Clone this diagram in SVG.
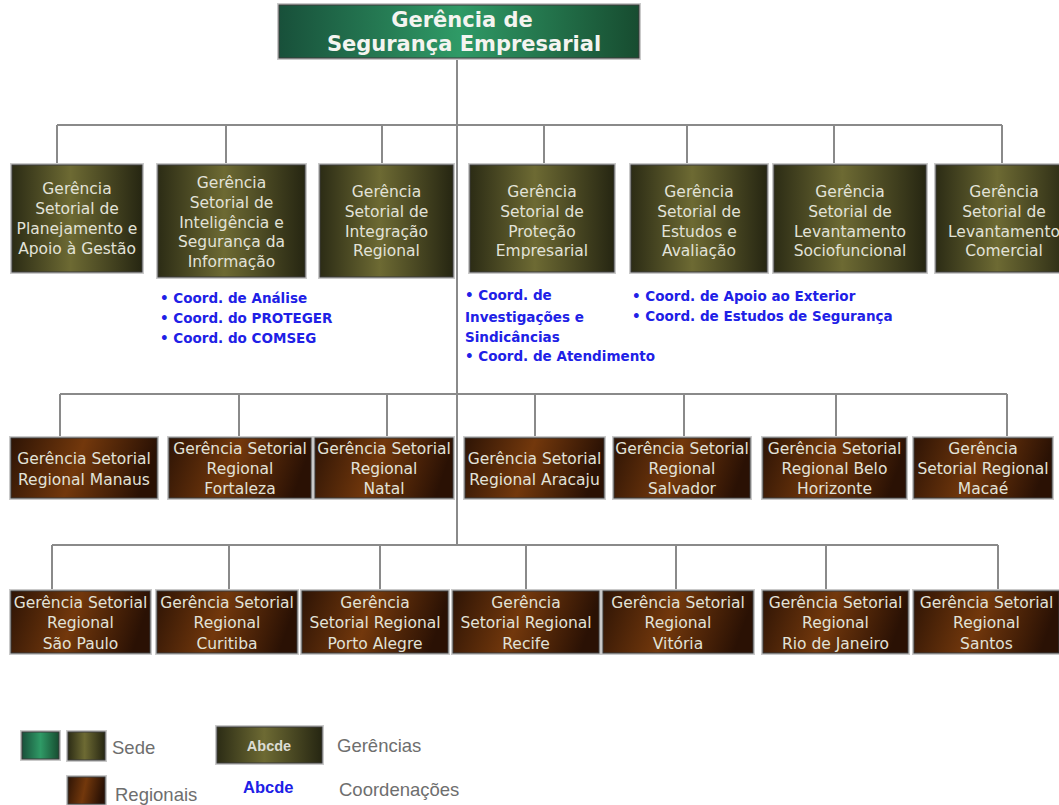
<svg xmlns="http://www.w3.org/2000/svg" width="1059" height="805" viewBox="0 0 1059 805">
<defs>
<linearGradient id="gGreen" x1="0" y1="0" x2="1" y2="0">
<stop offset="0" stop-color="#18503a"/><stop offset="0.5" stop-color="#2f9a66"/><stop offset="1" stop-color="#174c30"/>
</linearGradient>
<linearGradient id="gOlive" x1="0" y1="0" x2="1" y2="0">
<stop offset="0" stop-color="#2c2c15"/><stop offset="0.45" stop-color="#6d6a33"/><stop offset="1" stop-color="#262612"/>
</linearGradient>
<linearGradient id="gBrown" x1="0" y1="0" x2="1" y2="0.15">
<stop offset="0" stop-color="#2e1405"/><stop offset="0.5" stop-color="#73380c"/><stop offset="1" stop-color="#2a1104"/>
</linearGradient>
</defs>
<style>
.sh{fill:none;stroke:#c9c9c9;stroke-width:4}
.bx{stroke:#3a3a3a;stroke-width:1}
.gr{fill:url(#gGreen)}
.ol{fill:url(#gOlive)}
.br{fill:url(#gBrown)}
.t{font-family:"DejaVu Sans",Verdana,sans-serif;font-size:15.5px;fill:#e2e2d8;text-anchor:middle}
.top{font-family:"DejaVu Sans",Verdana,sans-serif;font-size:21px;font-weight:bold;fill:#f4f4f0;text-anchor:middle}
.co{font-family:"DejaVu Sans",Verdana,sans-serif;font-size:13.5px;font-weight:bold;fill:#2020e6}
.lg{font-family:"Liberation Sans",Arial,sans-serif;font-size:18.5px;fill:#6e6e6e}
.ln{stroke:#8a8a8a;stroke-width:2;fill:none}
</style>

<g id="connectors">
<path class="ln" d="M457 58 V545"/>
<path class="ln" d="M57 125 H1002 M57 125 V165 M226 125 V165 M382 125 V165 M544 125 V165 M687 125 V165 M834 125 V165 M1002 125 V165"/>
<path class="ln" d="M60 394 H1007 M60 394 V438 M239 394 V438 M387 394 V438 M535 394 V438 M684 394 V438 M836 394 V438 M1007 394 V438"/>
<path class="ln" d="M52 545 H998 M52 545 V591 M229 545 V591 M380 545 V591 M526 545 V591 M676 545 V591 M826 545 V591 M998 545 V591"/>
</g>

<g id="n-top">
<rect class="sh" x="279" y="5" width="360" height="53"/>
<rect class="bx gr" x="279" y="5" width="360" height="53"/>
<text class="top" x="462" y="26.5">Gerência de</text>
<text class="top" x="464" y="50.5">Segurança Empresarial</text>
</g>

<g id="n-planejamento">
<rect class="sh" x="12" y="165" width="130" height="107"/>
<rect class="bx ol" x="12" y="165" width="130" height="107"/>
<text class="t" x="77" y="193.5">Gerência</text>
<text class="t" x="77" y="213.5">Setorial de</text>
<text class="t" x="77" y="233.5">Planejamento e</text>
<text class="t" x="77" y="253.5">Apoio à Gestão</text>
</g>
<g id="n-inteligencia">
<rect class="sh" x="158" y="165" width="147" height="112"/>
<rect class="bx ol" x="158" y="165" width="147" height="112"/>
<text class="t" x="231.5" y="187.5">Gerência</text>
<text class="t" x="231.5" y="207.5">Setorial de</text>
<text class="t" x="231.5" y="227.5">Inteligência e</text>
<text class="t" x="231.5" y="246.5">Segurança da</text>
<text class="t" x="231.5" y="266.5">Informação</text>
</g>
<g id="n-integracao">
<rect class="sh" x="320" y="165" width="133" height="112"/>
<rect class="bx ol" x="320" y="165" width="133" height="112"/>
<text class="t" x="386.5" y="196.5">Gerência</text>
<text class="t" x="386.5" y="216.5">Setorial de</text>
<text class="t" x="386.5" y="236.5">Integração</text>
<text class="t" x="386.5" y="255.5">Regional</text>
</g>
<g id="n-protecao">
<rect class="sh" x="470" y="165" width="144" height="107"/>
<rect class="bx ol" x="470" y="165" width="144" height="107"/>
<text class="t" x="542" y="196.5">Gerência</text>
<text class="t" x="542" y="216.5">Setorial de</text>
<text class="t" x="542" y="236.5">Proteção</text>
<text class="t" x="542" y="255.5">Empresarial</text>
</g>
<g id="n-estudos">
<rect class="sh" x="631" y="165" width="136" height="107"/>
<rect class="bx ol" x="631" y="165" width="136" height="107"/>
<text class="t" x="699" y="196.5">Gerência</text>
<text class="t" x="699" y="216.5">Setorial de</text>
<text class="t" x="699" y="236.5">Estudos e</text>
<text class="t" x="699" y="255.5">Avaliação</text>
</g>
<g id="n-sociofuncional">
<rect class="sh" x="774" y="165" width="152" height="107"/>
<rect class="bx ol" x="774" y="165" width="152" height="107"/>
<text class="t" x="850" y="196.5">Gerência</text>
<text class="t" x="850" y="216.5">Setorial de</text>
<text class="t" x="850" y="236.5">Levantamento</text>
<text class="t" x="850" y="255.5">Sociofuncional</text>
</g>
<g id="n-comercial">
<rect class="sh" x="936" y="165" width="136" height="107"/>
<rect class="bx ol" x="936" y="165" width="136" height="107"/>
<text class="t" x="1004" y="196.5">Gerência</text>
<text class="t" x="1004" y="216.5">Setorial de</text>
<text class="t" x="1004" y="236.5">Levantamento</text>
<text class="t" x="1004" y="255.5">Comercial</text>
</g>

<g id="coord-inteligencia">
<text class="co" x="160" y="303">• Coord. de Análise</text>
<text class="co" x="160" y="323">• Coord. do PROTEGER</text>
<text class="co" x="160" y="343">• Coord. do COMSEG</text>
</g>
<g id="coord-protecao">
<text class="co" x="465" y="300">• Coord. de</text>
<text class="co" x="465" y="322">Investigações e</text>
<text class="co" x="465" y="342">Sindicâncias</text>
<text class="co" x="465" y="361">• Coord. de Atendimento</text>
</g>
<g id="coord-estudos">
<text class="co" x="632" y="301">• Coord. de Apoio ao Exterior</text>
<text class="co" x="632" y="321">• Coord. de Estudos de Segurança</text>
</g>

<g id="n-manaus">
<rect class="sh" x="11" y="438" width="146" height="60"/>
<rect class="bx br" x="11" y="438" width="146" height="60"/>
<text class="t" x="84" y="464">Gerência Setorial</text>
<text class="t" x="84" y="485">Regional Manaus</text>
</g>
<g id="n-fortaleza">
<rect class="sh" x="169" y="438" width="142" height="60"/>
<rect class="bx br" x="169" y="438" width="142" height="60"/>
<text class="t" x="240" y="454">Gerência Setorial</text>
<text class="t" x="240" y="474">Regional</text>
<text class="t" x="240" y="494">Fortaleza</text>
</g>
<g id="n-natal">
<rect class="sh" x="315" y="438" width="138" height="60"/>
<rect class="bx br" x="315" y="438" width="138" height="60"/>
<text class="t" x="384" y="454">Gerência Setorial</text>
<text class="t" x="384" y="474">Regional</text>
<text class="t" x="384" y="494">Natal</text>
</g>
<g id="n-aracaju">
<rect class="sh" x="465" y="438" width="139" height="60"/>
<rect class="bx br" x="465" y="438" width="139" height="60"/>
<text class="t" x="534.5" y="464">Gerência Setorial</text>
<text class="t" x="534.5" y="485">Regional Aracaju</text>
</g>
<g id="n-salvador">
<rect class="sh" x="614" y="438" width="136" height="60"/>
<rect class="bx br" x="614" y="438" width="136" height="60"/>
<text class="t" x="682" y="454">Gerência Setorial</text>
<text class="t" x="682" y="474">Regional</text>
<text class="t" x="682" y="494">Salvador</text>
</g>
<g id="n-belohorizonte">
<rect class="sh" x="763" y="438" width="143" height="60"/>
<rect class="bx br" x="763" y="438" width="143" height="60"/>
<text class="t" x="834.5" y="454">Gerência Setorial</text>
<text class="t" x="834.5" y="474">Regional Belo</text>
<text class="t" x="834.5" y="494">Horizonte</text>
</g>
<g id="n-macae">
<rect class="sh" x="914" y="438" width="138" height="60"/>
<rect class="bx br" x="914" y="438" width="138" height="60"/>
<text class="t" x="983" y="454">Gerência</text>
<text class="t" x="983" y="474">Setorial Regional</text>
<text class="t" x="983" y="494">Macaé</text>
</g>

<g id="n-saopaulo">
<rect class="sh" x="11" y="591" width="139" height="62"/>
<rect class="bx br" x="11" y="591" width="139" height="62"/>
<text class="t" x="80.5" y="607.5">Gerência Setorial</text>
<text class="t" x="80.5" y="628">Regional</text>
<text class="t" x="80.5" y="648.5">São Paulo</text>
</g>
<g id="n-curitiba">
<rect class="sh" x="157" y="591" width="140" height="62"/>
<rect class="bx br" x="157" y="591" width="140" height="62"/>
<text class="t" x="227" y="607.5">Gerência Setorial</text>
<text class="t" x="227" y="628">Regional</text>
<text class="t" x="227" y="648.5">Curitiba</text>
</g>
<g id="n-portoalegre">
<rect class="sh" x="302" y="591" width="146" height="62"/>
<rect class="bx br" x="302" y="591" width="146" height="62"/>
<text class="t" x="375" y="607.5">Gerência</text>
<text class="t" x="375" y="628">Setorial Regional</text>
<text class="t" x="375" y="648.5">Porto Alegre</text>
</g>
<g id="n-recife">
<rect class="sh" x="453" y="591" width="146" height="62"/>
<rect class="bx br" x="453" y="591" width="146" height="62"/>
<text class="t" x="526" y="607.5">Gerência</text>
<text class="t" x="526" y="628">Setorial Regional</text>
<text class="t" x="526" y="648.5">Recife</text>
</g>
<g id="n-vitoria">
<rect class="sh" x="603" y="591" width="150" height="62"/>
<rect class="bx br" x="603" y="591" width="150" height="62"/>
<text class="t" x="678" y="607.5">Gerência Setorial</text>
<text class="t" x="678" y="628">Regional</text>
<text class="t" x="678" y="648.5">Vitória</text>
</g>
<g id="n-riodejaneiro">
<rect class="sh" x="763" y="591" width="145" height="62"/>
<rect class="bx br" x="763" y="591" width="145" height="62"/>
<text class="t" x="835.5" y="607.5">Gerência Setorial</text>
<text class="t" x="835.5" y="628">Regional</text>
<text class="t" x="835.5" y="648.5">Rio de Janeiro</text>
</g>
<g id="n-santos">
<rect class="sh" x="914" y="591" width="145" height="62"/>
<rect class="bx br" x="914" y="591" width="145" height="62"/>
<text class="t" x="986.5" y="607.5">Gerência Setorial</text>
<text class="t" x="986.5" y="628">Regional</text>
<text class="t" x="986.5" y="648.5">Santos</text>
</g>

<g id="legend">
<rect class="sh" x="22" y="732" width="37" height="27"/>
<rect class="bx gr" x="22" y="732" width="37" height="27"/>
<rect class="sh" x="68" y="732" width="37" height="28"/>
<rect class="bx ol" x="68" y="732" width="37" height="28"/>
<text class="lg" x="112" y="754">Sede</text>
<rect class="sh" x="68" y="777" width="37" height="27"/>
<rect class="bx br" x="68" y="777" width="37" height="27"/>
<text class="lg" x="115" y="801">Regionais</text>
<rect class="sh" x="217" y="727" width="105" height="36"/>
<rect class="bx ol" x="217" y="727" width="105" height="36"/>
<text x="269" y="751" style="font-family:'Liberation Sans',Arial,sans-serif;font-size:14.5px;font-weight:bold;fill:#dcdcd4;text-anchor:middle">Abcde</text>
<text class="lg" x="337" y="752">Gerências</text>
<text x="243" y="793" style="font-family:'Liberation Sans',Arial,sans-serif;font-size:16.5px;font-weight:bold;fill:#2020e6">Abcde</text>
<text class="lg" x="339" y="796">Coordenações</text>
</g>
</svg>
